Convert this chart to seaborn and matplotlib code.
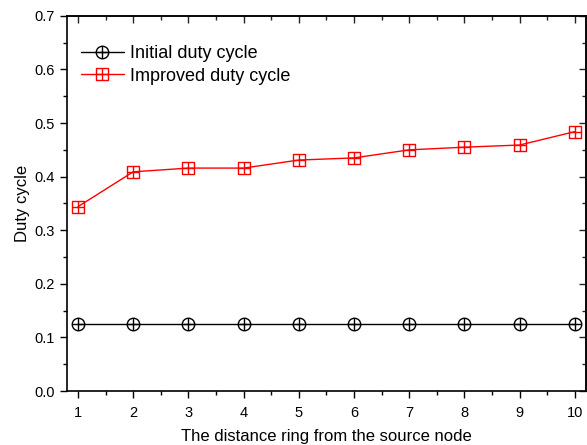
import numpy as np
import pandas as pd
import matplotlib
matplotlib.use("Agg")
import matplotlib.pyplot as plt
from matplotlib.path import Path
from matplotlib.ticker import MultipleLocator
import seaborn as sns

rings = [1, 2, 3, 4, 5, 6, 7, 8, 9, 10]
initial_duty = [0.125, 0.125, 0.125, 0.125, 0.125, 0.125, 0.125, 0.125, 0.125, 0.125]
improved_duty = [0.344, 0.409, 0.416, 0.416, 0.431, 0.435, 0.450, 0.455, 0.459, 0.484]

sns.set_theme(style="ticks")
plt.rcParams["font.family"] = ["Liberation Sans", "DejaVu Sans"]
plt.rcParams["text.color"] = "black"
plt.rcParams["axes.labelcolor"] = "black"

# circle with a cross, square with a cross
cross = Path([(-1, 0), (1, 0), (0, -1), (0, 1)],
             [Path.MOVETO, Path.LINETO, Path.MOVETO, Path.LINETO])
circle_plus = Path.make_compound_path(Path.unit_circle(), cross)
square = Path([(-1, -1), (1, -1), (1, 1), (-1, 1), (-1, -1)],
              [Path.MOVETO, Path.LINETO, Path.LINETO, Path.LINETO, Path.CLOSEPOLY])
square_plus = Path.make_compound_path(square, cross)

df = pd.DataFrame({"ring": rings, "initial": initial_duty, "improved": improved_duty})

fig = plt.figure(figsize=(5.87, 4.45), dpi=100)
ax = fig.add_axes([0.114, 0.1213, 0.884, 0.843])

sns.lineplot(data=df, x="ring", y="initial", ax=ax, color="black", lw=1.0,
             marker=circle_plus, markersize=9, markerfacecolor="none",
             markeredgecolor="black", markeredgewidth=1.0,
             label="Initial duty cycle")
sns.lineplot(data=df, x="ring", y="improved", ax=ax, color="red", lw=1.0,
             marker=square_plus, markersize=8.5, markerfacecolor="none",
             markeredgecolor="red", markeredgewidth=1.0,
             label="Improved duty cycle")

ax.set_xlim(0.8, 10.2)
ax.set_ylim(0.0, 0.7)
ax.xaxis.set_major_locator(MultipleLocator(1))
ax.xaxis.set_minor_locator(MultipleLocator(0.5))
ax.yaxis.set_major_locator(MultipleLocator(0.1))
ax.yaxis.set_minor_locator(MultipleLocator(0.05))
ax.yaxis.set_major_formatter(matplotlib.ticker.FormatStrFormatter("%.1f"))

ax.tick_params(which="major", direction="out", length=5, width=1.0, labelsize=10.5,
               top=False, right=False, colors="black")
ax.tick_params(axis="x", which="major", pad=6)
ax.tick_params(which="minor", direction="out", length=3, width=1.0,
               top=False, right=False, colors="black")

# mirrored inward ticks on top and right
for side in ("top", "right"):
    ax.spines[side].set_visible(True)
for sp in ax.spines.values():
    sp.set_linewidth(1.2)
    sp.set_color("black")
secx = ax.secondary_xaxis("top")
secx.xaxis.set_major_locator(MultipleLocator(1))
secx.xaxis.set_minor_locator(MultipleLocator(0.5))
secx.tick_params(which="major", direction="in", length=5, width=1.0, labeltop=False)
secx.tick_params(which="minor", direction="in", length=3, width=1.0)
secx.spines["top"].set_linewidth(1.2)
secy = ax.secondary_yaxis("right")
secy.yaxis.set_major_locator(MultipleLocator(0.1))
secy.yaxis.set_minor_locator(MultipleLocator(0.05))
secy.tick_params(which="major", direction="in", length=5, width=1.0, labelright=False)
secy.tick_params(which="minor", direction="in", length=3, width=1.0)
secy.spines["right"].set_linewidth(1.2)

ax.set_xlabel("The distance ring from the source node", fontsize=12, labelpad=6)
ax.set_ylabel("Duty cycle", fontsize=12, labelpad=3)

leg = ax.legend(loc="upper left", bbox_to_anchor=(-0.005, 0.965), frameon=False,
                fontsize=13, handlelength=2.4, handletextpad=0.35,
                labelspacing=0.3, borderaxespad=0.5)

fig.savefig("out.png", dpi=100)
